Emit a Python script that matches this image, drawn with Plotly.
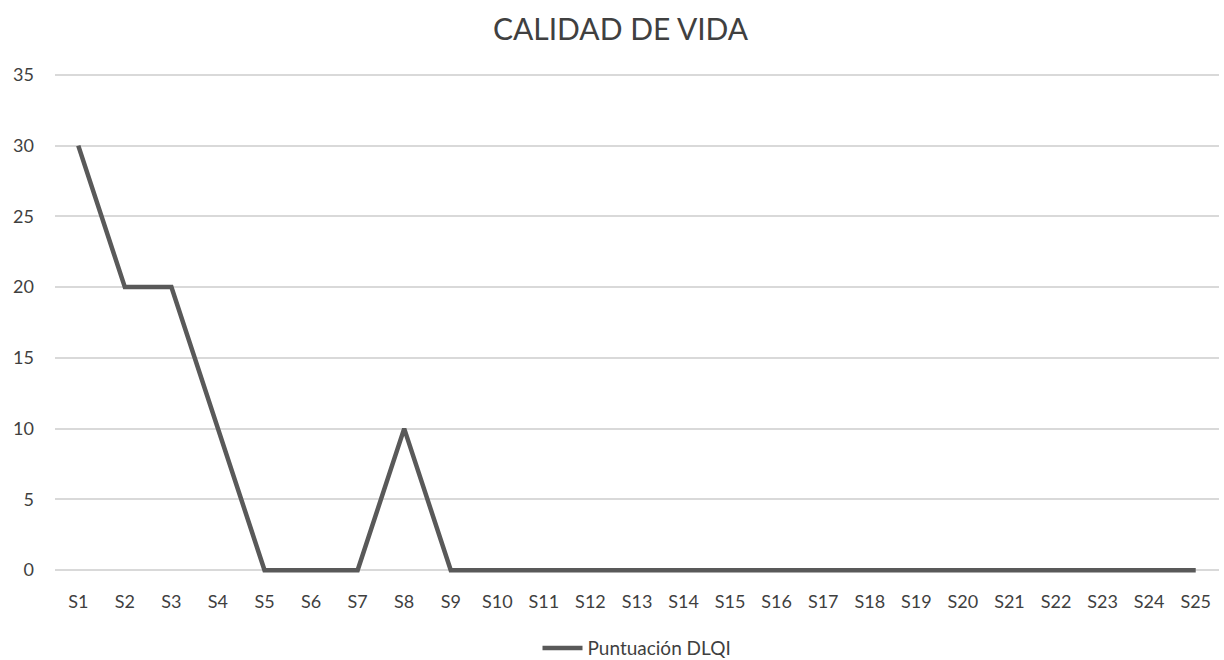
import plotly.graph_objects as go

# DLQI score per session
sesiones = [f"S{i}" for i in range(1, 26)]
puntuacion_dlqi = [30, 20, 20, 10, 0, 0, 0, 10, 0, 0, 0, 0, 0, 0, 0, 0, 0, 0, 0, 0, 0, 0, 0, 0, 0]
y_ticks = [0, 5, 10, 15, 20, 25, 30, 35]

FONT = "Lato, 'Open Sans', sans-serif"
GRAY_TEXT = "#3f3f3f"
GRID = "#d9d9d9"

fig = go.Figure()
fig.add_trace(go.Scatter(
    x=sesiones,
    y=puntuacion_dlqi,
    mode="lines",
    name="Puntuación DLQI",
    line=dict(color="#595959", width=4.5),
))

fig.update_layout(
    width=1224,
    height=660,
    paper_bgcolor="white",
    plot_bgcolor="white",
    margin=dict(l=55, r=5, t=72, b=87, autoexpand=False),
    title=dict(
        text="CALIDAD DE VIDA",
        x=0.507, xanchor="center",
        y=0.955, yanchor="middle",
        font=dict(family=FONT, size=30, color="#404040"),
    ),
    font=dict(family=FONT, size=18, color=GRAY_TEXT),
    showlegend=True,
    legend=dict(
        orientation="h",
        x=0.5, xanchor="center",
        y=-0.15, yanchor="middle",
        font=dict(family=FONT, size=19, color=GRAY_TEXT),
        itemwidth=40,
    ),
    xaxis=dict(
        type="category",
        automargin=False,
        showgrid=False,
        showline=False,
        zeroline=False,
        ticks="",
        ticklabelstandoff=16,
        tickfont=dict(family=FONT, size=18, color=GRAY_TEXT),
        range=[-0.5, len(sesiones) - 0.5],
    ),
    yaxis=dict(
        automargin=False,
        range=[-0.2, 35.2],
        tickvals=y_ticks,
        showgrid=True,
        gridcolor=GRID,
        gridwidth=1.5,
        zeroline=True,
        zerolinecolor=GRID,
        zerolinewidth=1.5,
        showline=False,
        ticks="",
        ticklabelstandoff=20,
        tickfont=dict(family=FONT, size=18, color=GRAY_TEXT),
    ),
)

fig.write_html("out.html")
